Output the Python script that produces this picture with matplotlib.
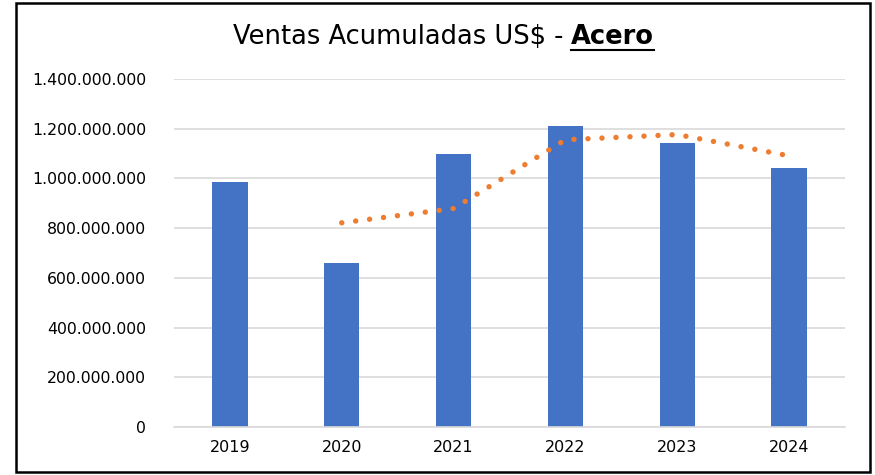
import matplotlib
matplotlib.use("Agg")
import matplotlib.pyplot as plt
from matplotlib.patches import Rectangle
import numpy as np

years = ["2019", "2020", "2021", "2022", "2023", "2024"]
ventas = [984e6, 659e6, 1099e6, 1212e6, 1141e6, 1041e6]
yticks = [0, 200e6, 400e6, 600e6, 800e6, 1000e6, 1200e6, 1400e6]
ytick_labels = ["0", "200.000.000", "400.000.000", "600.000.000", "800.000.000",
                "1.000.000.000", "1.200.000.000", "1.400.000.000"]
title_main = "Ventas Acumuladas US$ - "
title_bold = "Acero"

plt.rcParams['font.family'] = ['DejaVu Sans']

W, H = 875, 475
fig = plt.figure(figsize=(W / 100, H / 100), dpi=100)
ax = fig.add_axes([174 / W, 1 - 427 / H, (845 - 174) / W, (427 - 79) / H])

x = np.arange(len(years))
ax.bar(x, ventas, width=0.315, color="#4472C4", zorder=2)

# 2-period moving average trendline
ma = [(ventas[i - 1] + ventas[i]) / 2 for i in range(1, len(ventas))]
ax.plot(x[1:], ma, color="#ED7D31", lw=3.9, linestyle=(0, (0.01, 2.58)),
        dash_capstyle="round", zorder=3)

ax.set_xlim(-0.5, len(years) - 0.5)
ax.set_ylim(0, 1400e6)
ax.set_yticks(yticks)
ax.set_yticklabels(ytick_labels, fontsize=11.3, color="#000000")
ax.set_xticks(x)
ax.set_xticklabels(years, fontsize=11.5, color="#000000")
ax.tick_params(axis="both", length=0)
ax.tick_params(axis="y", pad=20)
ax.tick_params(axis="x", pad=9)
ax.grid(axis="y", color="#D9D9D9", lw=1.2, zorder=0)
ax.set_axisbelow(True)
for s in ["top", "right", "left"]:
    ax.spines[s].set_visible(False)
ax.spines["bottom"].set_color("#D9D9D9")
ax.spines["bottom"].set_linewidth(1.2)

# Title with bold underlined part, sized to the reference width
fs = 16
t1 = fig.text(0, 1 - 37 / H, title_main, fontsize=fs, ha="left", va="center", color="#000000")
t2 = fig.text(0, 1 - 37 / H, title_bold, fontsize=fs, fontweight="bold", ha="left",
              va="center", color="#000000")
fig.canvas.draw()
r = fig.canvas.get_renderer()
total = t1.get_window_extent(r).width + t2.get_window_extent(r).width
fs = fs * 423 / total
t1.set_fontsize(fs)
t2.set_fontsize(fs)
fig.canvas.draw()
b1 = t1.get_window_extent(r)
b2 = t2.get_window_extent(r)
total = b1.width + b2.width
x0 = 443.5 - total / 2
t1.set_x(x0 / W)
t2.set_x((x0 + b1.width) / W)
fig.canvas.draw()
b2 = t2.get_window_extent(r)
uy = (H - 50) / H
fig.add_artist(plt.Line2D([b2.x0 / W, b2.x1 / W], [uy, uy], color="#000000", lw=1.5,
                          transform=fig.transFigure))

# Chart frame
fig.add_artist(Rectangle((16 / W, 3 / H), (870 - 16) / W, (472 - 3) / H,
                         transform=fig.transFigure, fill=False, edgecolor="#000000", lw=1.8))

fig.savefig("out.png", dpi=100)
